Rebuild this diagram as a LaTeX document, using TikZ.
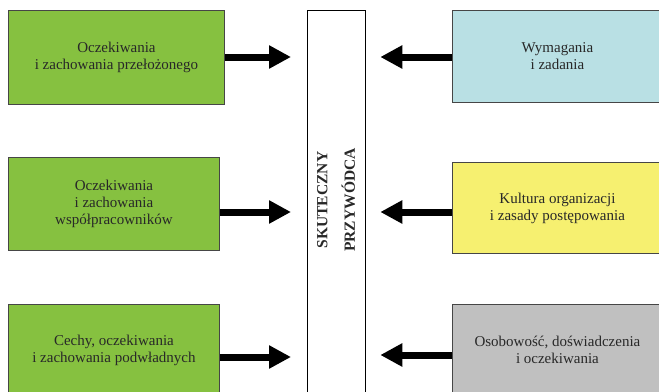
\documentclass[tikz,border=0pt]{standalone}
\usepackage{fontspec}
\setmainfont{Liberation Serif}
\usetikzlibrary{arrows.meta}
\definecolor{boxgreen}{RGB}{134,193,64}
\definecolor{boxblue}{RGB}{185,224,228}
\definecolor{boxyellow}{RGB}{246,240,112}
\definecolor{boxgray}{RGB}{192,192,192}
\definecolor{edge}{RGB}{70,70,70}
\definecolor{ink}{RGB}{40,40,40}
\tikzset{
  factor/.style={draw=edge, line width=0.9bp, rectangle, anchor=north west,
    align=center, text=ink, inner sep=0pt,
    font=\fontsize{15bp}{17bp}\selectfont},
  leftbox/.style={factor, fill=boxgreen},
  leader/.style={draw=black, line width=1.3bp, rectangle, anchor=north west,
    minimum width=58bp, minimum height=400bp, inner sep=0pt},
  influence/.style={line width=7bp, draw=black,
    -{Triangle[width=22bp,length=22bp]}}
}
\begin{document}
\begin{tikzpicture}[x=1bp,y=1bp]
\useasboundingbox (0,0) rectangle (659,391);
\clip (0,0) rectangle (659,391);

% central box
\node[leader] (c) at (307,381) {};
\node[rotate=90, align=center, text=ink,
  font=\fontsize{15.5bp}{27.5bp}\selectfont\bfseries] (ct) at (336,191)
  {SKUTECZNY\\PRZYWÓDCA};

% left column
\node[leftbox, minimum width=216bp, minimum height=94bp] (l1) at (8,381)
  {Oczekiwania\\i zachowania przełożonego};
\node[leftbox, minimum width=211bp, minimum height=93bp] (l2) at (8,234)
  {Oczekiwania\\i zachowania\\współpracowników};
\node[leftbox, minimum width=211bp, minimum height=92bp] (l3) at (8,87)
  {Cechy, oczekiwania\\i zachowania podwładnych};

% right column
\node[factor, fill=boxblue, minimum width=210bp, minimum height=92bp] (r1) at (452,381)
  {Wymagania\\i zadania};
\node[factor, fill=boxyellow, minimum width=210bp, minimum height=91bp] (r2) at (452,229)
  {Kultura organizacji\\i zasady postępowania};
\node[factor, fill=boxgray, minimum width=210bp, minimum height=90bp] (r3) at (452,87)
  {Osobowość, doświadczenia\\i oczekiwania};

% arrow rows
\coordinate (rowA) at (0,334);
\coordinate (rowB) at (0,179);
\coordinate (rowC) at (0,34);
\coordinate (rowD) at (0,36);

% arrows into the central box
\draw[influence, shorten >=16bp] (l1.east |- rowA) -- (c.west |- rowA);
\draw[influence, shorten >=16bp] (l2.east |- rowB) -- (c.west |- rowB);
\draw[influence, shorten >=16bp] (l3.east |- rowC) -- (c.west |- rowC);
\draw[influence, shorten >=14bp] (r1.west |- rowA) -- (c.east |- rowA);
\draw[influence, shorten >=14bp] (r2.west |- rowB) -- (c.east |- rowB);
\draw[influence, shorten >=14bp] (r3.west |- rowD) -- (c.east |- rowD);
\end{tikzpicture}
\end{document}
